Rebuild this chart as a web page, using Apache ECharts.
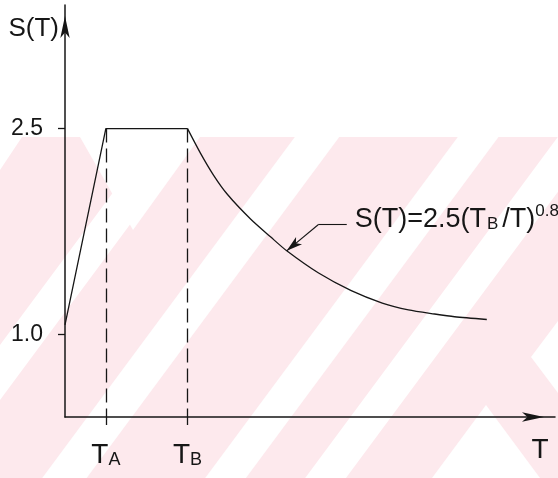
<!DOCTYPE html>
<html>
<head>
<meta charset="utf-8">
<script src="https://cdn.jsdelivr.net/npm/echarts@6/dist/echarts.min.js"></script>
<style>
  html, body { margin: 0; padding: 0; background: #fff; }
  #chart { width: 558px; height: 478px; }
</style>
</head>
<body>
<div id="chart"></div>
<script>
// design spectrum (T in s)
const periodT = [0, 0.1, 0.3, 0.332, 0.364, 0.398, 0.455, 0.504, 0.543, 0.62, 0.701, 0.777, 0.841, 0.905, 0.954, 1.033];
const spectrumS = [1.07, 2.5, 2.5, 2.32, 2.16, 2.02, 1.84, 1.71, 1.61, 1.45, 1.32, 1.23, 1.18, 1.15, 1.13, 1.11];
const cornerT = [0.1, 0.3];
const cornerNames = ['A', 'B'];
const yTicks = [1.0, 2.5];
const yTickLabels = ['1.0', '2.5'];
// leader of the formula note: tip on the curve, elbow, end
const leaderT = [0.543, 0.62, 0.69];
const leaderS = [1.61, 1.8, 1.8];

const font = "'Liberation Sans', Arial, sans-serif";
const ink = '#161616';
const pink = '#fde9ed';

const chart = echarts.init(document.getElementById('chart'));

// watermark stripes behind the drawing
const white = (pts) => ({ type: 'polygon', z: -10, silent: true, shape: { points: pts }, style: { fill: '#fff' } });
// "/" band between y + 1.35x = c1 and c2, clipped to the pink area
const band = (c1, c2) => white([[(c1 - 137) / 1.35, 137], [(c2 - 137) / 1.35, 137], [(c2 - 478) / 1.35, 478], [(c1 - 478) / 1.35, 478]]);
const watermark = [
  { type: 'rect', z: -11, silent: true, shape: { x: 0, y: 137, width: 558, height: 341 }, style: { fill: pink } },
  band(345, 400),
  white([[80, 137], [200, 137], [133, 230]]),
  white([[0, 137], [22, 137], [0, 170]]),
  band(535, 595),
  band(755, 810),
  band(890, 945),
  white([[486, 405], [432, 478], [540, 478]]),
  white([[531, 357], [558, 321], [558, 393]])
];

const dashStyle = { color: ink, width: 1.3, type: [14, 6] };
const points = periodT.map((t, i) => [t, spectrumS[i]]);

chart.setOption({
  animation: false,
  backgroundColor: '#fff',
  graphic: watermark,
  grid: { left: 65, right: 3, top: 5, bottom: 61 },
  xAxis: {
    type: 'value',
    min: 0,
    max: 1.2,
    name: '{n|T}',
    nameLocation: 'end',
    nameGap: -15,
    nameTextStyle: {
      align: 'center',
      rich: { n: { fontFamily: font, fontSize: 28, lineHeight: 30, color: ink, padding: [66, 0, 0, 0] } }
    },
    axisLine: { show: true, symbol: ['none', 'arrow'], symbolSize: [7, 22], symbolOffset: [0, -11], lineStyle: { color: ink, width: 1.5 } },
    axisTick: { show: true, customValues: cornerT, length: 8, lineStyle: { color: ink, width: 1.3 } },
    axisLabel: {
      customValues: cornerT,
      margin: 24,
      formatter: (v) => '{t|T}{s|' + cornerNames[cornerT.indexOf(v)] + '}',
      rich: {
        t: { fontFamily: font, fontSize: 28, lineHeight: 28, color: ink },
        s: { fontFamily: font, fontSize: 18, lineHeight: 20, color: ink, verticalAlign: 'bottom' }
      }
    },
    splitLine: { show: false }
  },
  yAxis: {
    type: 'value',
    min: 0.4,
    max: 3.4,
    name: 'S(T)',
    nameLocation: 'end',
    nameGap: -24,
    nameTextStyle: { fontFamily: font, fontSize: 26, color: ink, align: 'right', verticalAlign: 'middle', padding: [0, 6, 0, 0] },
    axisLine: { show: true, symbol: ['none', 'arrow'], symbolSize: [7, 22], symbolOffset: [0, -11], lineStyle: { color: ink, width: 1.5 } },
    axisTick: { show: true, customValues: yTicks, length: 7, lineStyle: { color: ink, width: 1.3 } },
    axisLabel: {
      customValues: yTicks,
      margin: 22,
      fontFamily: font,
      fontSize: 23,
      color: ink,
      formatter: (v) => yTickLabels[yTicks.indexOf(v)]
    },
    splitLine: { show: false }
  },
  series: [{
    // straight ramp and plateau
    type: 'line',
    data: points.slice(0, 3),
    showSymbol: false,
    lineStyle: { color: ink, width: 1.3 },
    markLine: {
      silent: true,
      symbol: ['none', 'none'],
      label: { show: false },
      lineStyle: dashStyle,
      data: cornerT.map((t) => [{ coord: [t, 2.5] }, { coord: [t, 0.4] }])
    }
  }, {
    // descending branch
    type: 'line',
    data: points.slice(2),
    showSymbol: false,
    smooth: 0.25,
    lineStyle: { color: ink, width: 1.3 },
    markLine: {
      silent: true,
      symbol: ['none', 'none'],
      label: { show: false },
      lineStyle: { color: ink, width: 1.1, type: 'solid' },
      data: [
        [
          { coord: [leaderT[0], leaderS[0]], symbol: 'arrow', symbolSize: [7, 16] },
          { coord: [leaderT[1], leaderS[1]], symbol: 'none' }
        ],
        [
          { coord: [leaderT[1], leaderS[1]] },
          {
            coord: [leaderT[2], leaderS[2]],
            label: {
              show: true,
              position: 'end',
              distance: 8,
              offset: [0, -7],
              formatter: '{m|S(T)=2.5(T}{b|B}{m|/T)}{p|0.8}',
              rich: {
                m: { fontFamily: font, fontSize: 27, lineHeight: 30, color: ink, verticalAlign: 'bottom', padding: [10, 0, 0, 0] },
                b: { fontFamily: font, fontSize: 17, lineHeight: 20, color: ink, verticalAlign: 'bottom', padding: [0, 4, 0, 1] },
                p: { fontFamily: font, fontSize: 17, lineHeight: 17, color: ink, verticalAlign: 'top' }
              }
            }
          }
        ]
      ]
    }
  }]
});
</script>
</body>
</html>
